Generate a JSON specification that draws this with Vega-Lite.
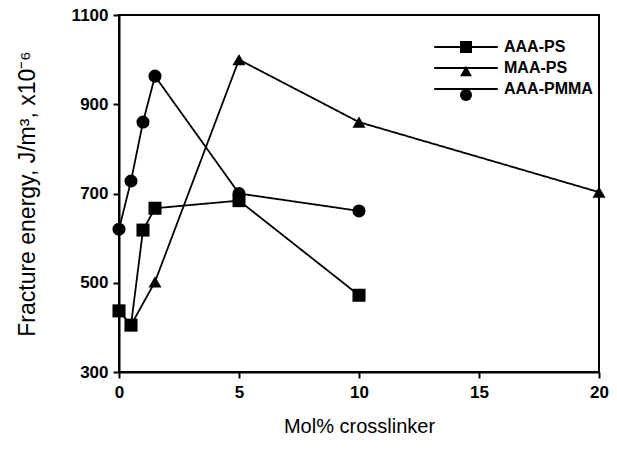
{
  "$schema": "https://vega.github.io/schema/vega-lite/v6.json",
  "width": 480,
  "height": 357,
  "autosize": "none",
  "padding": {"left": 119, "top": 15, "right": 18, "bottom": 79},
  "background": "white",
  "config": {
    "view": {"stroke": "black", "strokeWidth": 2},
    "font": "Liberation Sans",
    "legend": {"padding": 0}
  },
  "data": {
    "values": [
      {"series": "MAA-PS", "x": 0.5, "y": 405},
      {"series": "MAA-PS", "x": 1.5, "y": 502},
      {"series": "MAA-PS", "x": 5, "y": 1000},
      {"series": "MAA-PS", "x": 10, "y": 860},
      {"series": "MAA-PS", "x": 20, "y": 703},
      {"series": "AAA-PS", "x": 0, "y": 437},
      {"series": "AAA-PS", "x": 0.5, "y": 405},
      {"series": "AAA-PS", "x": 1, "y": 618},
      {"series": "AAA-PS", "x": 1.5, "y": 667},
      {"series": "AAA-PS", "x": 5, "y": 684},
      {"series": "AAA-PS", "x": 10, "y": 472},
      {"series": "AAA-PMMA", "x": 0, "y": 620},
      {"series": "AAA-PMMA", "x": 0.5, "y": 728},
      {"series": "AAA-PMMA", "x": 1, "y": 860},
      {"series": "AAA-PMMA", "x": 1.5, "y": 963},
      {"series": "AAA-PMMA", "x": 5, "y": 700},
      {"series": "AAA-PMMA", "x": 10, "y": 661}
    ]
  },
  "encoding": {
    "x": {
      "field": "x", "type": "quantitative",
      "scale": {"domain": [0, 20], "nice": false},
      "axis": {
        "title": "Mol%  crosslinker",
        "values": [0, 5, 10, 15, 20],
        "grid": false, "labelFlush": false,
        "domainColor": "black", "domainWidth": 2,
        "tickColor": "black", "tickWidth": 2, "tickSize": 6,
        "labelFontSize": 17, "labelFontWeight": "bold", "labelColor": "black", "labelPadding": 6,
        "titleFontSize": 20, "titleFontWeight": "normal", "titleColor": "black", "titlePadding": 16
      }
    },
    "y": {
      "field": "y", "type": "quantitative",
      "scale": {"domain": [300, 1100], "nice": false},
      "axis": {
        "title": "Fracture energy, J/m³, x10⁻⁶",
        "values": [300, 500, 700, 900, 1100],
        "format": "d",
        "grid": false, "labelFlush": false,
        "domainColor": "black", "domainWidth": 2,
        "tickColor": "black", "tickWidth": 2, "tickSize": 6,
        "labelFontSize": 17, "labelFontWeight": "bold", "labelColor": "black", "labelPadding": 5,
        "titleFontSize": 23, "titleFontWeight": "normal", "titleColor": "black", "titlePadding": 32
      }
    }
  },
  "layer": [
    {
      "mark": {"type": "line", "color": "black", "strokeWidth": 1.8},
      "encoding": {
        "strokeDash": {
          "field": "series", "type": "nominal",
          "sort": ["AAA-PS", "MAA-PS", "AAA-PMMA"],
          "scale": {"range": [[1, 0], [1, 0], [1, 0]]},
          "legend": {
            "title": null, "orient": "none", "legendX": 339, "legendY": 24,
            "symbolType": "M-5.3,0H5.3", "symbolSize": 144,
            "symbolStrokeColor": "black", "symbolStrokeWidth": 1.8,
            "labelFontSize": 16, "labelFontWeight": "bold", "labelColor": "black",
            "labelOffset": 30, "rowPadding": 5
          }
        }
      }
    },
    {
      "mark": {"type": "point", "filled": true, "color": "black", "opacity": 1},
      "encoding": {
        "shape": {
          "field": "series", "type": "nominal",
          "scale": {"domain": ["AAA-PS", "MAA-PS", "AAA-PMMA"], "range": ["square", "triangle-up", "circle"]},
          "legend": {
            "title": null, "orient": "none", "legendX": 339, "legendY": 24,
            "labelExpr": "''", "labelFontSize": 16, "labelFontWeight": "bold",
            "labelOffset": 30,
            "symbolFillColor": "black", "symbolStrokeColor": "black", "symbolStrokeWidth": 1.8,
            "symbolSize": 144, "rowPadding": 5
          }
        },
        "size": {"value": 170}
      }
    }
  ]
}
